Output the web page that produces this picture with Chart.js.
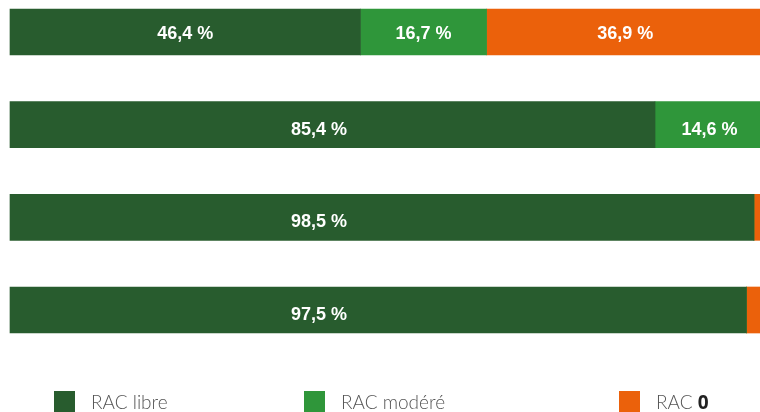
<!DOCTYPE html>
<html>
<head>
<meta charset="utf-8">
<script src="https://cdn.jsdelivr.net/npm/chart.js@4.4.1/dist/chart.umd.min.js"></script>
<style>
  html, body { margin: 0; padding: 0; background: #fff; overflow: hidden; }
  #wrap { position: relative; width: 760px; height: 412px; }
  #chartBox { position: absolute; left: 0; top: 0; width: 760px; height: 412px; }
  #legend { position: absolute; left: 54px; top: 391px; display: grid;
            grid-template-columns: 250px 315px auto; font-family: Lato, "Open Sans", sans-serif;
            font-weight: 300; font-size: 19px; color: #555; line-height: 21px; }
  #legend .item { display: flex; align-items: flex-start; }
  #legend .sw { width: 21px; height: 21px; margin-right: 16px; flex: none; }
  #legend b { font-weight: 700; font-family: "Open Sans", Lato, sans-serif; color: #222; }
</style>
</head>
<body>
<div id="wrap">
  <div id="chartBox"><canvas id="c"></canvas></div>
  <div id="legend"></div>
</div>
<script>
const categories = ["Ligne 1", "Ligne 2", "Ligne 3", "Ligne 4"];
const seriesNames = ["RAC libre", "RAC modéré", "RAC 0"];
const racLibre  = [46.4, 85.4, 98.5, 97.5];
const racModere = [16.7, 14.6, 0, 0];
const racZero   = [36.9, 0, 1.5, 2.5];
const colors = ["#285C2E", "#2F963A", "#EB610B"];

const valueLabels = {
  id: "valueLabels",
  afterDatasetsDraw(chart) {
    const ctx = chart.ctx;
    const area = chart.chartArea;
    ctx.save();
    ctx.fillStyle = "#fff";
    ctx.font = "bold 18px 'Liberation Sans', Arial, sans-serif";
    ctx.textAlign = "center";
    ctx.textBaseline = "middle";
    chart.data.datasets.forEach((ds, di) => {
      const meta = chart.getDatasetMeta(di);
      meta.data.forEach((bar, i) => {
        const v = ds.data[i];
        if (v < 5) return;
        const left = Math.min(bar.x, bar.base);
        const right = Math.min(Math.max(bar.x, bar.base), chart.width + 4);
        let x = (left + right) / 2;
        if (di === 0) x = Math.min(x, area.left + area.width * 0.412);
        const txt = v.toFixed(1).replace(".", ",") + " %";
        ctx.fillText(txt, x, bar.y + (i === 0 ? 2 : 5));
      });
    });
    ctx.restore();
  }
};

const chart = new Chart(document.getElementById("c"), {
  type: "bar",
  data: {
    labels: categories,
    datasets: [
      { label: seriesNames[0], data: racLibre, backgroundColor: colors[0] },
      { label: seriesNames[1], data: racModere, backgroundColor: colors[1] },
      { label: seriesNames[2], data: racZero, backgroundColor: colors[2] }
    ]
  },
  options: {
    indexAxis: "y",
    responsive: true,
    maintainAspectRatio: false,
    animation: false,
    layout: { padding: { top: 32, left: 10, right: 0, bottom: 102 } },
    datasets: { bar: { barThickness: 46, borderWidth: 0, clip: false } },
    scales: {
      x: { stacked: true, min: 0, max: 99.3, display: false },
      y: { stacked: true, display: false, offset: false }
    },
    plugins: { legend: { display: false }, tooltip: { enabled: false } }
  },
  plugins: [valueLabels]
});

const legend = document.getElementById("legend");
chart.data.datasets.forEach(ds => {
  const item = document.createElement("div");
  item.className = "item";
  const sw = document.createElement("span");
  sw.className = "sw";
  sw.style.background = ds.backgroundColor;
  const t = document.createElement("span");
  t.innerHTML = ds.label.replace(/(\d+)/g, "<b>$1</b>");
  item.appendChild(sw);
  item.appendChild(t);
  legend.appendChild(item);
});
</script>
</body>
</html>
